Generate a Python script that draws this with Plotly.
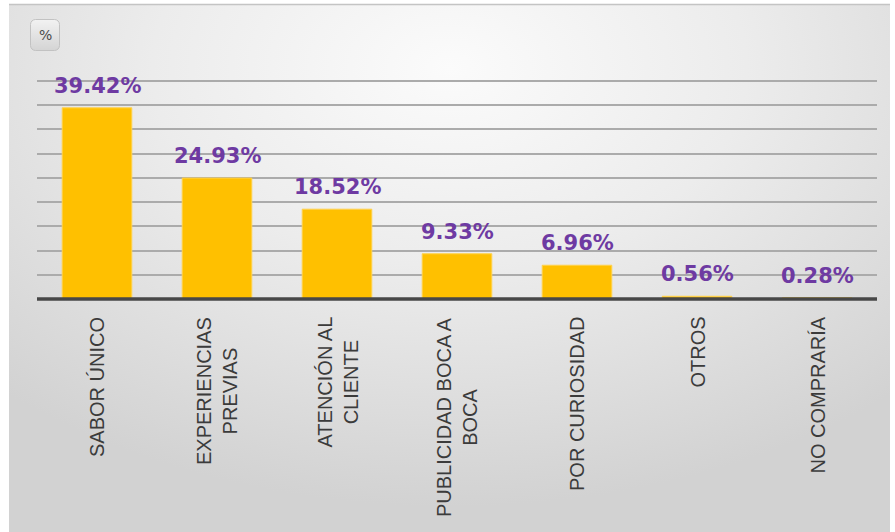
import base64
import plotly.graph_objects as go

# Survey results: reasons for buying
categories = [
    "SABOR ÚNICO",
    "EXPERIENCIAS<br>PREVIAS",
    "ATENCIÓN AL<br>CLIENTE",
    "PUBLICIDAD BOCA A<br>BOCA",
    "POR CURIOSIDAD",
    "OTROS",
    "NO COMPRARÍA",
]
percentages = [39.42, 24.93, 18.52, 9.33, 6.96, 0.56, 0.28]
grid_values = [5, 10, 15, 20, 25, 30, 35, 40, 45]

W, H = 895, 532
plot_left, plot_right = 37, 877
plot_top, plot_bottom = 45, 299
px_per_unit = 4.85
y_max = (plot_bottom - plot_top) / px_per_unit

# soft grey panel behind the chart, with the small "%" button box
svg = f"""<svg xmlns='http://www.w3.org/2000/svg' width='{W}' height='{H}' viewBox='0 0 {W} {H}'>
<defs>
<radialGradient id='g' cx='0.5' cy='0.12' r='0.75' gradientTransform='translate(0.5 0.12) scale(1 1.1) translate(-0.5 -0.12)'>
<stop offset='0' stop-color='#fbfbfb'/>
<stop offset='0.45' stop-color='#ececec'/>
<stop offset='1' stop-color='#d2d2d2'/>
</radialGradient>
<linearGradient id='b' x1='0' y1='0' x2='0' y2='1'>
<stop offset='0' stop-color='#f2f2f2'/>
<stop offset='1' stop-color='#d4d4d4'/>
</linearGradient>
</defs>
<rect x='9' y='4' width='881' height='{H}' fill='url(#g)'/>
<line x1='9' y1='4.5' x2='890' y2='4.5' stroke='#c4c4c4' stroke-width='1.5'/>
<rect x='30.5' y='19.5' width='29' height='31' rx='5' ry='5' fill='url(#b)' stroke='#c2c2c2' stroke-width='1'/>
</svg>"""
bg_uri = "data:image/svg+xml;base64," + base64.b64encode(svg.encode()).decode()

fig = go.Figure()
fig.add_trace(go.Bar(
    x=categories,
    y=percentages,
    marker=dict(color="#FFC000", line=dict(color="#FFD24D", width=1)),
    hoverinfo="skip",
))

# value labels above each bar
for cat, val in zip(categories, percentages):
    fig.add_annotation(
        x=cat, y=val, text=f"{val:.2f}%",
        showarrow=False, yanchor="bottom", yshift=8,
        font=dict(family="DejaVu Sans", size=21, color="#6E3AA2", weight="bold"),
    )

# category labels, rotated, lines centred on each other
for cat in categories:
    fig.add_annotation(
        x=cat, xref="x", y=0, yref="paper",
        text=cat, textangle=-90, align="center",
        showarrow=False, xanchor="center", yanchor="top", yshift=-16,
        font=dict(family="Liberation Sans", size=20, color="#3b3b3b"),
    )

fig.add_annotation(
    xref="paper", yref="paper",
    x=(45 - plot_left) / (plot_right - plot_left),
    y=(plot_bottom - 35) / (plot_bottom - plot_top),
    xanchor="center", yanchor="middle",
    text="%", showarrow=False,
    font=dict(family="DejaVu Sans", size=14, color="#4a4a4a"),
)

# thick dark base line drawn over the foot of the bars
fig.add_shape(
    type="line", xref="paper", yref="paper",
    x0=0, x1=1, y0=0, y1=0,
    line=dict(color="#474747", width=3.5), layer="above",
)

fig.update_layout(
    width=W, height=H,
    margin=dict(l=plot_left, r=W - plot_right, t=plot_top, b=H - plot_bottom),
    paper_bgcolor="white",
    plot_bgcolor="rgba(0,0,0,0)",
    bargap=0.42,
    showlegend=False,
    images=[dict(
        source=bg_uri, xref="paper", yref="paper",
        x=-plot_left / (plot_right - plot_left),
        y=1 + plot_top / (plot_bottom - plot_top),
        sizex=W / (plot_right - plot_left),
        sizey=H / (plot_bottom - plot_top),
        xanchor="left", yanchor="top", sizing="stretch", layer="below",
    )],
    xaxis=dict(
        showticklabels=False, showline=False,
        ticks="", showgrid=False,
    ),
    yaxis=dict(
        range=[0, y_max],
        tickvals=grid_values,
        showticklabels=False,
        showgrid=True, gridcolor="#ababab", gridwidth=1.5,
        zeroline=False, showline=False, ticks="",
    ),
)

fig.write_html("out.html")
